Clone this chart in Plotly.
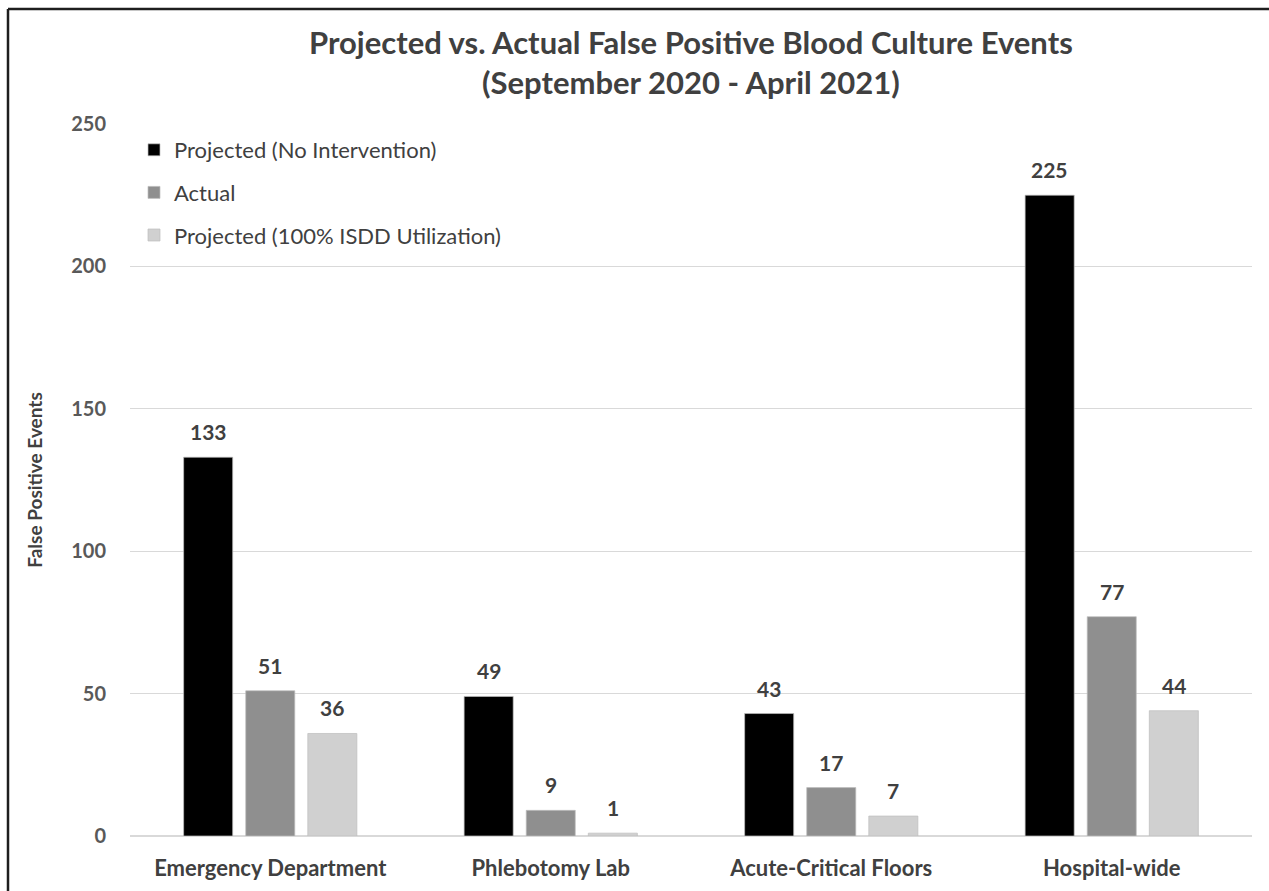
import plotly.graph_objects as go

# Units and event counts, September 2020 - April 2021
units = ["Emergency Department", "Phlebotomy Lab", "Acute-Critical Floors", "Hospital-wide"]
projected_no_intervention = [133, 49, 43, 225]
actual = [51, 9, 17, 77]
projected_full_isdd = [36, 1, 7, 44]

series_names = [
    "Projected (No Intervention)",
    "Actual",
    "Projected (100% ISDD Utilization)",
]
series_values = [projected_no_intervention, actual, projected_full_isdd]
series_colors = ["#000000", "#8f8f8f", "#d0d0d0"]

y_ticks = [0, 50, 100, 150, 200, 250]

title_lines = [
    "Projected vs. Actual False Positive Blood Culture Events",
    "(September 2020 - April 2021)",
]

FONT = "Lato"
TEXT = "#404040"

W, H = 1269, 891
M_L, M_R, M_T, M_B = 130, 17, 124, 55
plot_w = W - M_L - M_R
plot_h = H - M_T - M_B


def px_to_paper_x(px):
    return (px - M_L) / plot_w


def px_to_paper_y(py):
    return (H - M_B - py) / plot_h


fig = go.Figure()
for name, vals, color in zip(series_names, series_values, series_colors):
    fig.add_trace(go.Bar(
        x=units,
        y=vals,
        name=name,
        legendgroup=name,
        marker=dict(color=color, line=dict(color="rgba(190,190,190,0.7)", width=1)),
        hoverinfo="x+y+name",
    ))

# value labels above each bar, shifted sideways to sit over their bar in the group
slot_px = 62
for i, vals in enumerate(series_values):
    for unit, v in zip(units, vals):
        fig.add_annotation(
            x=unit, y=v, text=f"<b>{v}</b>",
            xref="x", yref="y",
            xshift=(i - 1) * slot_px, yshift=11,
            yanchor="bottom", showarrow=False,
            font=dict(family=FONT, size=21, color=TEXT),
        )

# two-line heading
fig.add_annotation(
    x=0.5, xref="paper", xanchor="center",
    y=px_to_paper_y(62), yref="paper", yanchor="middle",
    text="<br>".join(f"<b>{line}</b>" for line in title_lines),
    showarrow=False,
    font=dict(family=FONT, size=31, color=TEXT),
)

# outer frame (left and top edges)
fx = px_to_paper_x(8)
fy = px_to_paper_y(9)
fig.add_shape(type="line", xref="paper", yref="paper",
              x0=fx, x1=fx, y0=px_to_paper_y(H), y1=fy,
              line=dict(color="#1e1e1e", width=2.5))
fig.add_shape(type="line", xref="paper", yref="paper",
              x0=fx, x1=px_to_paper_x(W), y0=fy, y1=fy,
              line=dict(color="#1e1e1e", width=2.5))

fig.update_layout(
    width=W, height=H,
    margin=dict(l=M_L, r=M_R, t=M_T, b=M_B, autoexpand=False),
    paper_bgcolor="white",
    plot_bgcolor="white",
    barmode="group",
    bargap=0.336,
    bargroupgap=0.21,
    showlegend=True,
    legend=dict(
        x=px_to_paper_x(134), xanchor="left",
        y=px_to_paper_y(129), yanchor="top",
        font=dict(family=FONT, size=22, color=TEXT),
        bgcolor="rgba(0,0,0,0)",
        tracegroupgap=11,
        traceorder="grouped",
    ),
    font=dict(family=FONT, color=TEXT),
)

fig.update_xaxes(
    showgrid=False, showline=False, ticks="",
    tickfont=dict(family=FONT, size=22, color=TEXT, weight="bold"),
    ticklabelstandoff=17,
)
fig.update_yaxes(
    range=[0, 250], tickvals=y_ticks,
    showgrid=True, gridcolor="#d9d9d9", gridwidth=1.2,
    zeroline=True, zerolinecolor="#d9d9d9", zerolinewidth=1.5,
    showline=False, ticks="",
    tickfont=dict(family=FONT, size=20, color="#595959", weight="bold"),
    ticklabelstandoff=23,
    title=dict(text="<b>False Positive Events</b>", standoff=23,
               font=dict(family=FONT, size=19, color=TEXT)),
)

fig.write_html("out.html")
